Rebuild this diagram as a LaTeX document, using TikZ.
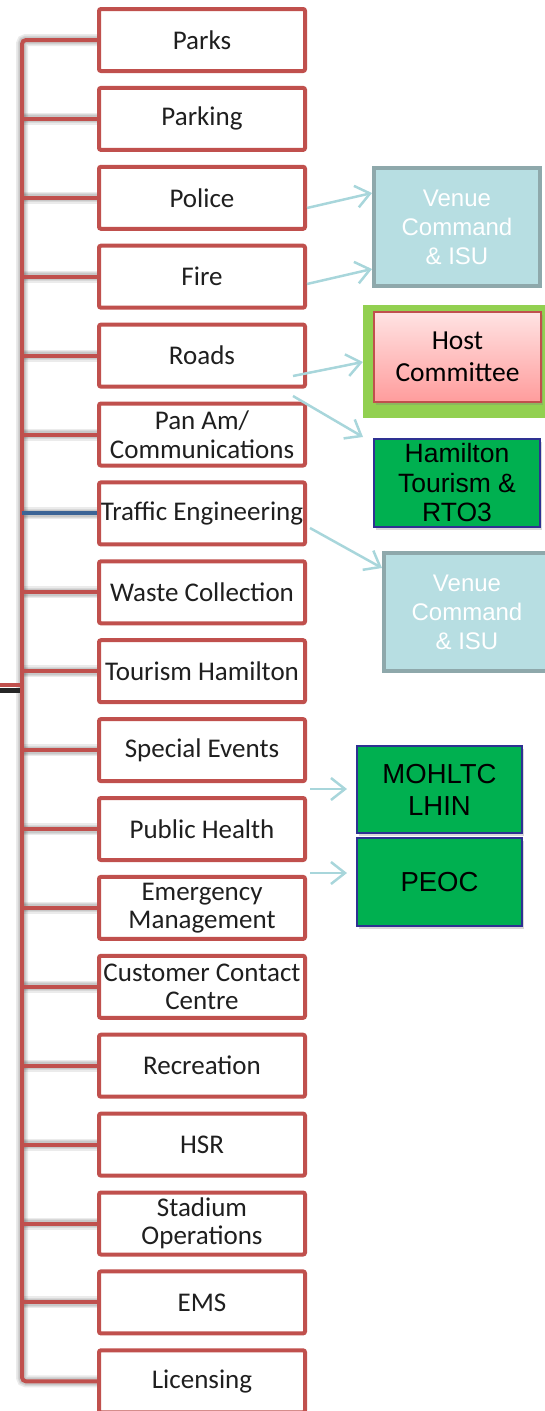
\documentclass[tikz,border=0pt]{standalone}
\usepackage{fontspec}
\newfontfamily\carl{Carlito}
\newfontfamily\arl{Liberation Sans}
\usetikzlibrary{arrows.meta,shadows,backgrounds}
\definecolor{boxred}{HTML}{C0504D}
\definecolor{tealb}{HTML}{B7DEE2}
\definecolor{tealbd}{HTML}{8EA8AB}
\definecolor{arrowc}{HTML}{A8D6DB}
\definecolor{agreen}{HTML}{00B050}
\definecolor{navyb}{HTML}{2E3192}
\definecolor{limeg}{HTML}{92D050}
\definecolor{pinkt}{HTML}{FFE3E3}
\definecolor{pinkb}{HTML}{FF9C9C}
\definecolor{teblue}{HTML}{3C6496}
\begin{document}
\begin{tikzpicture}[x=1pt,y=-1pt,
  dept/.style={draw=boxred, line width=4pt, rounded corners=2pt, fill=white,
    minimum width=206pt, minimum height=62pt, inner sep=0pt, align=center,
    font=\carl\fontsize{27}{28.5}\selectfont, text=black!88},
  link/.style={draw=boxred, line width=4pt},
  linkshadow/.style={draw=black, opacity=0.08, line width=#1},
  venue/.style={draw=tealbd, fill=tealb, line width=4pt, text=white, align=center,
    inner sep=0pt, minimum width=166pt, minimum height=118pt,
    font=\arl\fontsize{24}{29}\selectfont},
  agency/.style={draw=navyb, fill=agreen, line width=2pt, align=center, inner sep=0pt,
    text=black, minimum width=165pt, font=\arl\fontsize{27.5}{32}\selectfont,
    drop shadow={shadow xshift=2pt, shadow yshift=-3pt, opacity=0.3}},
  flow/.style={draw=arrowc, line width=2.5pt, -{Straight Barb[length=14pt,width=22pt]}}]
\useasboundingbox (0,0) rectangle (545,1411);
% department boxes
\foreach \i/\t in {1/Parks, 2/Parking, 3/Police, 4/Fire, 5/Roads,
  6/{Pan Am/\\Communications}, 7/Traffic Engineering, 8/Waste Collection,
  9/Tourism Hamilton, 10/Special Events, 11/Public Health,
  12/{Emergency\\Management}, 13/{Customer Contact\\Centre}, 14/Recreation,
  15/HSR, 16/{Stadium\\Operations}, 17/EMS, 18/Licensing}{
  \pgfmathsetmacro\yy{40+78.9*(\i-1)}
  \node[dept] (b\i) at (202,\yy) {\t};
  \coordinate (t\i) at (22,\yy);
}
\coordinate (stub) at (0,685);
\coordinate (stubk) at (0,690);
\begin{scope}[on background layer]
  % soft shadows
  \begin{scope}[shift={(0.5,1.5)}]
    \foreach \w in {12pt,9pt,7pt}{
      \draw[linkshadow=\w, rounded corners=4pt] (b1.west) -| (t18) -- (b18.west);
      \foreach \i in {2,...,17}{\draw[linkshadow=\w] (t\i) -- (b\i.west);}
    }
  \end{scope}
  \draw[draw=black!85, line width=5pt] (stubk) -- (stubk -| t1);
  \draw[link, rounded corners=4pt] (b1.west) -| (t18) -- (b18.west);
  \foreach \i in {2,...,6,8,9,...,17}{\draw[link] (t\i) -- (b\i.west);}
  \draw[draw=teblue, line width=4pt] (t7) -- (b7.west);
  \draw[link] (stub) -- (stub -| t1);
\end{scope}
% right side boxes
\node[venue] (v1) at (457,227) {Venue\\Command\\\& ISU};
\node[fill=limeg, minimum width=182pt, minimum height=113pt, inner sep=0pt] (hg) at (454,361.5) {};
\node[draw=boxred, line width=2pt, top color=pinkt, bottom color=pinkb,
  minimum width=167pt, minimum height=90pt, inner sep=0pt, align=center,
  font=\carl\fontsize{27.5}{32}\selectfont,
  drop shadow={shadow xshift=2pt, shadow yshift=-3pt, opacity=0.3}] (host) at (457.5,357) {Host\\Committee};
\node[agency, minimum width=166pt, minimum height=88pt, font=\arl\fontsize{26.5}{29.5}\selectfont] (ht) at (457,483) {Hamilton\\Tourism \&\\RTO3};
\node[venue] (v2) at (467,612) {Venue\\Command\\\& ISU};
\node[agency, minimum height=87pt] (mo) at (439.5,789.5) {MOHLTC\\LHIN};
\node[agency, minimum height=88pt] (pe) at (439.5,882) {PEOC};
% arrows
\coordinate (r1) at (293,376);
\coordinate (r2) at (293,396);
\coordinate (te) at (310,528);
\coordinate (se) at (310,789);
\coordinate (ph) at (310,873);
\draw[flow] (b3.east |- 0,208) -- (v1.west |- 0,193);
\draw[flow] (b4.east |- 0,284) -- (v1.west |- 0,269);
\draw[flow] (r1) -- (hg.west |- 0,362);
\draw[flow] (r2) -- (363,437);
\draw[flow] (te) -- (v2.west |- 0,568);
\draw[flow] (se) -- (se -| 347,0);
\draw[flow] (ph) -- (ph -| 347,0);
\end{tikzpicture}
\end{document}
